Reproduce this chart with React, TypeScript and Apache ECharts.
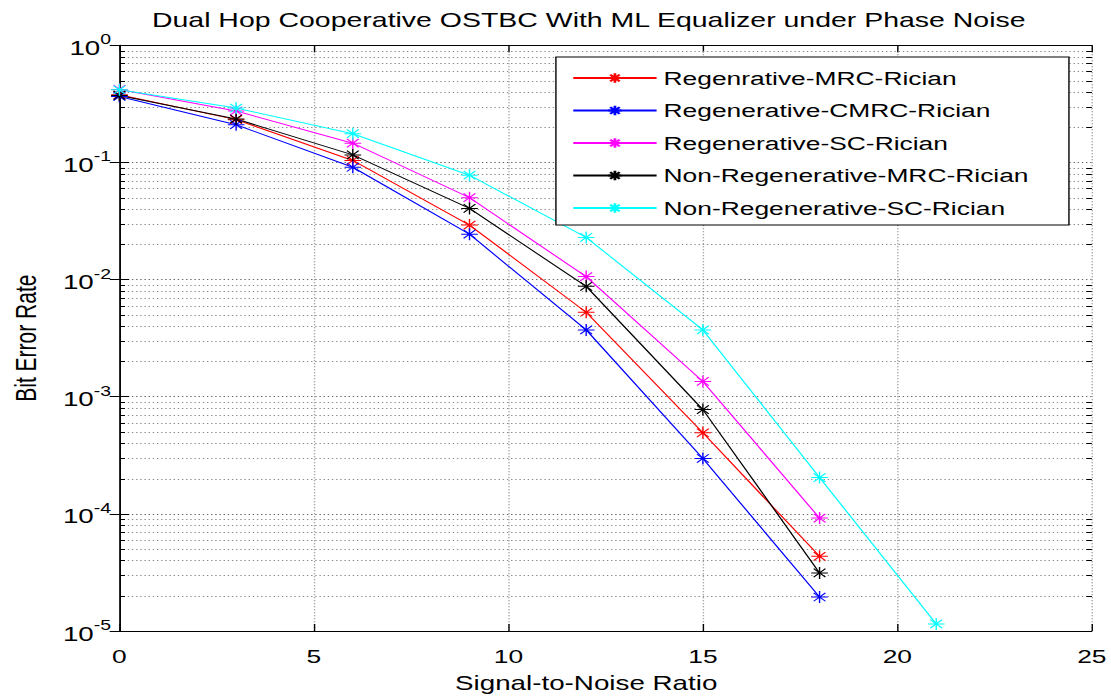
import React, { useEffect, useRef } from 'react';
import * as echarts from 'echarts';

// ---- data ----
const snr = [0, 3, 6, 9, 12, 15, 18];
const snrLong = [0, 3, 6, 9, 12, 15, 18, 21];
const regMrcRician = [0.378, 0.232, 0.104, 0.0292, 0.00526, 0.000492, 4.34e-5];
const regCmrcRician = [0.366, 0.21, 0.091, 0.0244, 0.00372, 0.000297, 1.95e-5];
const regScRician = [0.42, 0.275, 0.146, 0.05, 0.0106, 0.00135, 9.2e-5];
const nonRegMrcRician = [0.373, 0.235, 0.116, 0.0405, 0.00875, 0.000776, 3.13e-5];
const nonRegScRician = [0.417, 0.291, 0.176, 0.0778, 0.0229, 0.00372, 0.000204, 1.15e-5];

const seriesNames = [
  'Regenrative-MRC-Rician',
  'Regenerative-CMRC-Rician',
  'Regenerative-SC-Rician',
  'Non-Regenerative-MRC-Rician',
  'Non-Regenerative-SC-Rician',
];
const seriesColors = ['#ff0000', '#0000ff', '#ff00ff', '#000000', '#00ffff'];
const seriesX = [snr, snr, snr, snr, snrLong];
const seriesY = [regMrcRician, regCmrcRician, regScRician, nonRegMrcRician, nonRegScRician];

const decades = [1e-5, 1e-4, 1e-3, 1e-2, 1e-1];
const minorMultipliers = [2, 3, 4, 5, 6, 7, 8, 9];
const minorValues: number[] = [];
decades.forEach((d) => minorMultipliers.forEach((m) => minorValues.push(m * d)));

const titleText = 'Dual Hop Cooperative OSTBC With ML Equalizer under Phase Noise';
const xName = 'Signal-to-Noise Ratio';
const yName = 'Bit Error Rate';

const STAR =
  'path://M0,-10L0,10M-10,0L10,0M-7.07,-7.07L7.07,7.07M-7.07,7.07L7.07,-7.07';

const W = 800;
const H = 698;
const SX = 1111 / W;
const FONT = '"Liberation Sans", Arial, Helvetica, sans-serif';

export default function App() {
  const ref = useRef<HTMLDivElement>(null);
  useEffect(() => {
    if (!ref.current) return;
    const chart = echarts.init(ref.current, null, { renderer: 'svg' });
    const axisLine = { show: true, lineStyle: { color: '#000', width: 1 } };
    const gridLine = { show: true, lineStyle: { color: '#8a8a8a', width: 1, type: [1, 2] as any } };
    const logLabel = {
      fontFamily: FONT,
      color: '#000',
      margin: 6,
      formatter: (v: number) => `{b|10}{s|${Math.round(Math.log10(v))}}`,
      rich: {
        b: { fontSize: 20, fontFamily: FONT, color: '#000', verticalAlign: 'bottom' },
        s: { fontSize: 14, fontFamily: FONT, color: '#000', verticalAlign: 'bottom', padding: [0, 0, 11, 0] },
      },
    };
    const option: any = {
      animation: false,
      backgroundColor: '#ffffff',
      textStyle: { fontFamily: FONT },
      title: {
        text: titleText,
        left: 104.4,
        top: 4,
        textStyle: { fontSize: 20.5, fontWeight: 'normal', color: '#000', fontFamily: FONT },
      },
      grid: { left: 84.2, right: 13.8, top: 45.3, bottom: 64.6, containLabel: false },
      legend: {
        orient: 'vertical',
        left: 400.3,
        top: 57,
        data: seriesNames,
        itemWidth: 60,
        itemHeight: 12,
        itemGap: 12.5,
        padding: [11, 29, 7, 11.5],
        borderColor: '#000',
        borderWidth: 1,
        borderRadius: 0,
        backgroundColor: '#fff',
        textStyle: { fontSize: 19, color: '#000', fontFamily: FONT, lineHeight: 20 },
      },
      xAxis: [
        {
          type: 'value',
          min: 0,
          max: 25,
          interval: 5,
          position: 'bottom',
          name: xName,
          nameLocation: 'middle',
          nameGap: 42,
          nameTextStyle: { fontSize: 20, color: '#000', fontFamily: FONT, padding: [0, 28, 0, 0] },
          axisLine,
          axisTick: { show: true, inside: true, length: 7, lineStyle: { color: '#000' } },
          axisLabel: { fontSize: 19, color: '#000', fontFamily: FONT, margin: 16 },
          splitLine: gridLine,
        },
        {
          type: 'value',
          min: 0,
          max: 25,
          interval: 5,
          position: 'top',
          axisLine,
          axisTick: { show: true, inside: true, length: 7, lineStyle: { color: '#000' } },
          axisLabel: { show: false },
          splitLine: { show: false },
        },
      ],
      yAxis: [
        {
          type: 'log',
          logBase: 10,
          min: 1e-5,
          max: 1,
          position: 'left',
          name: yName,
          nameLocation: 'middle',
          nameGap: 57,
          nameTextStyle: { fontSize: 21, color: '#000', fontFamily: FONT },
          axisLine,
          axisTick: { show: true, inside: true, length: 7, lineStyle: { color: '#000' } },
          axisLabel: logLabel,
          splitLine: { show: true, lineStyle: { color: '#666', width: 1, type: [1, 2] as any } },
        },
        {
          type: 'log',
          logBase: 10,
          min: 1e-5,
          max: 1,
          position: 'right',
          axisLine,
          axisTick: { show: true, inside: true, length: 7, lineStyle: { color: '#000' } },
          axisLabel: { show: false },
          splitLine: { show: false },
        },
      ],
      series: [
        {
          type: 'custom',
          name: 'minor-grid',
          silent: true,
          z: 1,
          xAxisIndex: 0,
          yAxisIndex: 0,
          data: minorValues.map((v) => [0, v]),
          renderItem: (params: any, api: any) => {
            const cs = params.coordSys;
            const y = Math.round(api.coord([0, api.value(1)])[1]) + 0.5;
            return {
              type: 'group',
              children: [
                { type: 'line', shape: { x1: cs.x, y1: y, x2: cs.x + cs.width, y2: y }, style: { stroke: '#8a8a8a', lineWidth: 1, lineDash: [1, 2] } },
                { type: 'line', shape: { x1: cs.x, y1: y, x2: cs.x + 4, y2: y }, style: { stroke: '#000', lineWidth: 1 } },
                { type: 'line', shape: { x1: cs.x + cs.width - 4, y1: y, x2: cs.x + cs.width, y2: y }, style: { stroke: '#000', lineWidth: 1 } },
              ],
            };
          },
        },
        ...seriesNames.map((name, i) => ({
          type: 'line',
          name,
          z: 3,
          data: seriesX[i].map((x, j) => [x, seriesY[i][j]]),
          symbol: STAR,
          symbolSize: 12,
          showSymbol: true,
          lineStyle: { color: seriesColors[i], width: 1 },
          itemStyle: { color: seriesColors[i], borderColor: seriesColors[i], borderWidth: 1 },
          emphasis: { disabled: true },
        })),
      ],
    };
    chart.setOption(option);
    return () => chart.dispose();
  }, []);
  return (
    <div
      ref={ref}
      style={{
        position: 'absolute',
        left: 0,
        top: 0,
        width: W,
        height: H,
        transform: `scaleX(${SX})`,
        transformOrigin: '0 0',
      }}
    />
  );
}
